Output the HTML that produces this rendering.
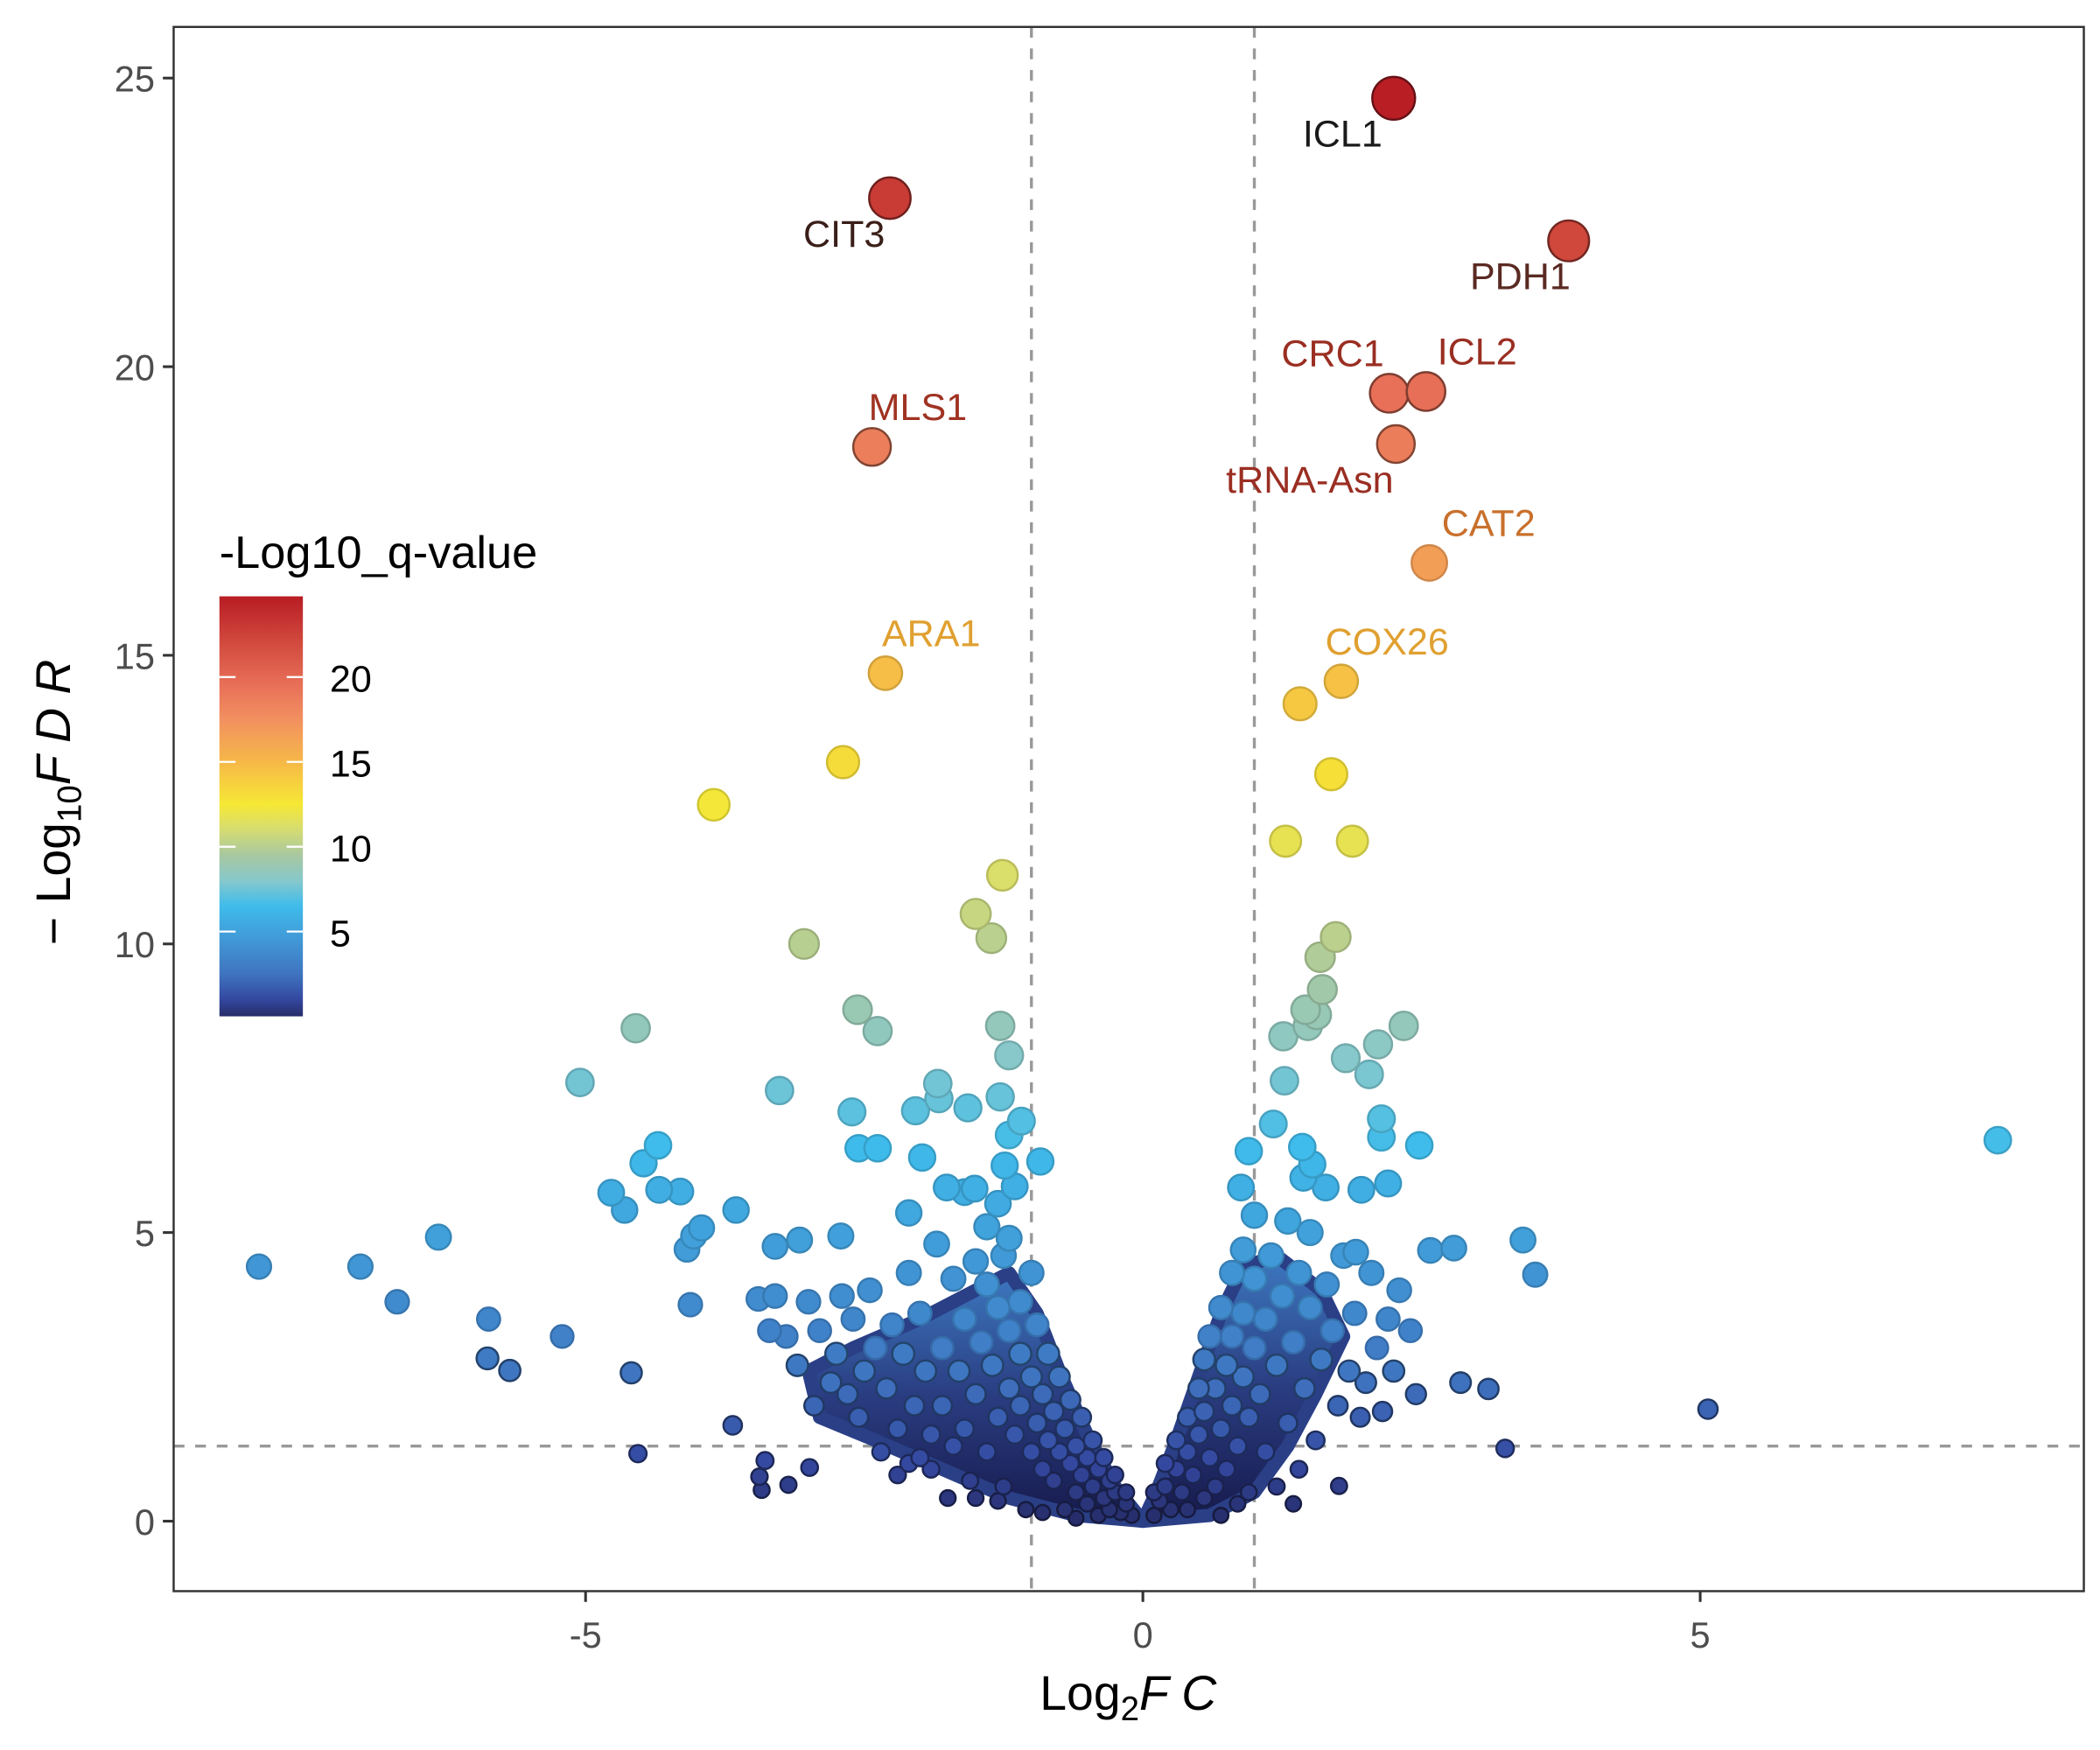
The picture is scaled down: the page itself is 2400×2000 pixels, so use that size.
<!DOCTYPE html>
<html><head><meta charset="utf-8">
<style>
html,body{margin:0;padding:0;background:#fff;}
svg{display:block;font-family:"Liberation Sans",Arial,sans-serif;}
</style></head>
<body>
<svg id="chart" width="2400" height="2000" viewBox="0 0 1560 1300" xmlns="http://www.w3.org/2000/svg">
<defs>
<linearGradient id="cbar" x1="0" y1="1" x2="0" y2="0"></linearGradient>
<linearGradient id="cloudGrad" x1="0" y1="1" x2="0" y2="0">
<stop offset="0" stop-color="#161a4c"/><stop offset="0.5" stop-color="#2a3c80"/><stop offset="1" stop-color="#3d78c0"/>
</linearGradient>
<clipPath id="panelClip"><rect x="129" y="20" width="1419" height="1162"/></clipPath>
</defs>
<rect x="0" y="0" width="1560" height="1300" fill="#fff"/>
<g id="plot" clip-path="url(#panelClip)"></g>
<rect x="129" y="20" width="1419" height="1162" fill="none" stroke="#333" stroke-width="1.6"/>
<g id="axes"></g>
<text x="838" y="1270" font-size="36" text-anchor="middle" fill="#000">Log<tspan font-size="25" dy="8">2</tspan><tspan dy="-8" font-style="italic">F C</tspan></text>
<text transform="translate(52,596) rotate(-90)" font-size="36" text-anchor="middle" fill="#000">− Log<tspan font-size="25" dy="8">10</tspan><tspan dy="-8" font-style="italic">F D R</tspan></text>
<g id="legend">
<text x="163" y="422" font-size="34" fill="#000">-Log10_q-value</text>
</g>
</svg>
<script>
// ---- data ----
const xTicks = [-5, 0, 5];
const yTicks = [0, 5, 10, 15, 20, 25];
const legendTicks = [5, 10, 15, 20];
const fcThreshold = [-1, 1];
const fdrThreshold = 1.3;
const labelNames = ["ICL1","CIT3","PDH1","CRC1","ICL2","tRNA-Asn","MLS1","CAT2","ARA1","COX26"];
const labelFC = [2.25,-2.27,3.82,2.21,2.54,2.27,-2.43,2.57,-2.31,1.78];
const labelFDR = [24.65,22.92,22.18,19.54,19.57,18.66,18.61,16.6,14.69,14.55];
const labelDX = [-38,-34,-36,-42,38,-64,34,44,34,34];
const labelDY = [36,36,36,-20,-20,36,-20,-20,-20,-20];
const labelColor = ["#1a1a1a","#3a1e18","#5a2a22","#9a2e22","#9a2e22","#9a2e22","#a03222","#c8702c","#e0a030","#e0a030"];
const pointFC = [
1.41,-2.69,1.69,-3.85,1.28,1.88,-1.26,-1.50,-1.36,-3.04,1.73,1.59,1.61,-2.56,-2.38,-4.55,-1.28,1.46,1.26,1.48,1.56,2.34,2.11,-1.20,1.82,2.03,-5.05,-3.26,-1.84,-1.83,1.27,-1.28,-1.57,-2.61,-2.04,-1.09,1.17,2.14,-1.20,2.14,7.67,-2.55,-2.38,2.48,-4.35,0.95,1.43,-0.92,-1.24,-1.98,-4.48,1.52,1.44,2.20,1.64,0.88,-4.77,-4.34,-4.15,-1.76,-1.51,1.96,-4.65,-3.65,-2.10,-3.96,3.41,-6.32,-4.03,-4.09,-3.08,-2.71,-3.30,2.79,2.58,1.91,-7.93,-7.02,3.52,-6.69,-5.87,-5.21,-5.88,-5.68,-4.59,-4.06,2.85,3.10,5.07,3.25,-3.68,-4.53,-3.39,-2.99,-3.44,-3.18,-3.42,1.76,
-0.1,-0.15,-0.2,-0.25,-0.3,-0.3,-0.35,-0.4,-0.4,-0.45,-0.5,-0.5,-0.55,-0.6,-0.6,-0.65,-0.7,-0.7,-0.75,-0.8,-0.8,-0.85,-0.9,-0.9,-0.95,-1.0,-1.0,-1.05,-1.1,-1.1,-1.15,-1.2,-1.2,-1.25,-1.3,-1.3,-1.35,-1.4,-1.4,-1.45,-1.5,-1.5,-1.55,-1.6,-1.6,-1.65,-1.7,-1.7,-1.75,-1.8,-1.8,-1.85,-1.9,-1.95,-2.0,-2.0,-2.05,-2.1,-2.15,-2.2,-2.25,-2.3,-2.35,-2.4,-2.45,-2.5,-2.55,-2.6,-2.65,-2.7,-2.75,-2.8,-2.9,-2.95,-3.0,-3.1,-3.2,-3.3,-3.35,-3.45,-1.2,-1.3,-1.0,-1.1,-0.95,-1.25,-1.4,-1.6,-1.15,-0.85,-0.75,-0.65,-0.55,-0.45,-0.35,-0.25,-0.15,-2.2,-2.1,-1.9,-1.3,-1.5,-0.9,-0.6,
0.1,0.15,0.2,0.25,0.3,0.35,0.4,0.4,0.45,0.5,0.55,0.55,0.6,0.65,0.65,0.7,0.75,0.75,0.8,0.8,0.85,0.9,0.9,0.95,0.95,1.0,1.0,1.05,1.1,1.1,1.15,1.2,1.25,1.3,1.3,1.35,1.4,1.45,1.5,1.5,1.55,1.6,1.65,1.7,1.75,1.8,1.85,1.9,1.95,2.0,2.05,2.1,2.15,2.2,2.25,2.3,2.4,2.45,0.55,0.6,0.7,0.8,0.9,1.0,0.2,0.3,0.4,0.5,0.1,1.4,1.2,1.35,0.7,0.85
];
const pointFDR = [
14.16,13.15,12.94,12.41,11.78,11.78,11.19,10.52,10.10,10.0,10.12,9.77,9.21,8.86,8.49,8.54,8.58,8.86,8.40,8.58,8.77,8.58,8.26,8.07,8.02,7.74,7.60,7.46,7.58,7.32,7.63,7.35,7.16,7.09,7.11,6.93,6.88,6.97,6.69,6.65,6.60,6.46,6.46,6.51,6.51,6.41,6.48,6.23,6.16,6.30,6.20,6.18,5.95,5.85,5.78,5.78,5.69,5.74,5.71,5.78,5.76,5.74,5.39,5.39,5.34,5.08,4.87,4.92,4.94,4.71,4.87,4.94,4.76,4.73,4.69,4.66,4.41,4.41,4.27,3.80,3.50,3.20,2.82,2.61,2.57,3.75,2.40,2.29,1.94,1.26,1.66,1.17,1.05,0.93,0.77,0.63,0.54,0.61,
0.1,0.3,0.15,0.5,0.2,0.7,0.4,0.9,0.1,0.6,1.1,0.3,0.8,1.3,0.5,1.0,1.6,0.2,1.2,1.9,0.7,1.4,2.2,0.9,1.7,2.5,1.2,0.2,2.0,2.9,1.5,3.3,2.3,0.6,1.8,3.7,2.7,4.1,1.2,3.1,2.2,4.5,0.7,3.5,1.6,2.6,4.2,1.3,0.4,3.0,2.0,4.8,1.5,2.6,3.6,1.1,2.0,4.3,2.9,1.6,3.4,2.3,1.2,3.0,4.0,2.6,1.8,3.5,2.2,3.9,2.9,2.4,3.3,2.0,3.8,2.7,3.2,3.9,3.3,3.85,4.9,5.5,4.3,3.8,3.4,4.6,5.1,5.7,5.8,2.9,2.5,2.1,1.8,1.4,1.1,0.8,0.5,0.8,1.0,0.9,0.35,0.4,0.15,0.05,
0.1,0.35,0.6,0.2,0.9,0.5,1.2,0.2,0.8,1.5,0.4,1.9,1.1,2.3,0.6,1.6,2.7,0.9,2.0,3.2,1.3,2.5,3.6,0.5,1.8,3.0,4.2,2.2,3.5,1.2,4.6,2.7,3.9,1.7,5.2,3.1,4.3,2.3,3.7,5.0,1.4,2.8,4.1,3.3,2.0,4.6,2.6,3.6,1.8,2.4,4.3,3.0,1.9,3.5,2.6,4.0,3.3,2.2,2.8,3.2,3.7,4.3,4.7,5.3,1.0,1.4,1.8,2.3,0.5,0.9,0.6,0.3,0.1,0.3
];
const cloudLeftFC = [0,-0.25,-0.5,-0.75,-0.95,-1.2,-1.5,-2.0,-2.6,-3.0,-2.9,-2.4,-1.8,-1.2,-0.6];
const cloudLeftFDR = [0,0.6,1.5,2.6,3.6,4.3,4.0,3.5,3.0,2.6,1.8,1.4,0.9,0.4,0.1];
const cloudRightFC = [0,0.12,0.3,0.5,0.7,0.9,1.2,1.6,1.8,1.55,1.3,1.0,0.6];
const cloudRightFDR = [0,0.5,1.4,2.5,3.6,4.4,4.6,4.0,3.2,2.2,1.3,0.5,0.1];
// ---- scales ----
const PL=129, PR=1548, PT=20, PB=1182;
function xs(v){ return 849 + v*82.8; }
function ys(v){ return 1130 - v*42.88; }
const cStops = [[0,'#262c68'],[1,'#3448a0'],[2.5,'#3f74c0'],[4.5,'#4198d6'],[6.5,'#3fbceb'],[8,'#86c8cc'],[9.5,'#a8c8a0'],[11,'#d6dc72'],[12.5,'#f6e835'],[15,'#f6b848'],[17.5,'#f29060'],[19.5,'#e87058'],[22,'#d24a3e'],[24.8,'#b81c24']];
function hex2rgb(h){return [parseInt(h.substr(1,2),16),parseInt(h.substr(3,2),16),parseInt(h.substr(5,2),16)];}
function colorAt(v, k){
  k = (k===undefined) ? 1 : k;
  let i=0; while(i < cStops.length-2 && v > cStops[i+1][0]) i++;
  const a=cStops[i], b=cStops[i+1];
  let t=(v-a[0])/(b[0]-a[0]); t=Math.max(0,Math.min(1,t));
  const ca=hex2rgb(a[1]), cb=hex2rgb(b[1]);
  const c=ca.map((x,j)=>Math.round((x+(cb[j]-x)*t)*k));
  return 'rgb('+c.join(',')+')';
}
const rStops=[[0,5.5],[1.3,6.5],[3,8.3],[5,9.3],[10,11],[15,12.5],[20,14.5],[25,16]];
function radius(v){
  let i=0; while(i < rStops.length-2 && v > rStops[i+1][0]) i++;
  const a=rStops[i], b=rStops[i+1]; const t=Math.max(0,Math.min(1,(v-a[0])/(b[0]-a[0])));
  return a[1]+(b[1]-a[1])*t;
}
const NS='http://www.w3.org/2000/svg';
function mk(tag, attrs, parent){ const e=document.createElementNS(NS,tag); for(const k in attrs) e.setAttribute(k,attrs[k]); parent.appendChild(e); return e; }
const plot=document.getElementById('plot'), axes=document.getElementById('axes'), legend=document.getElementById('legend');

fcThreshold.forEach(v=>{
  const l=mk('line',{x1:xs(v),x2:xs(v),y1:PT,y2:PB,stroke:'#999','stroke-width':2.2,'stroke-dasharray':'8 8'},plot);
  
  
});
const hl=mk('line',{x1:PL,x2:PR,y1:ys(fdrThreshold),y2:ys(fdrThreshold),stroke:'#999','stroke-width':2.2,'stroke-dasharray':'8 8'},plot);



[[cloudLeftFC,cloudLeftFDR,'dense-cloud-left'],[cloudRightFC,cloudRightFDR,'dense-cloud-right']].forEach(c=>{
  const pts=c[0].map((x,i)=>xs(x)+','+ys(c[1][i])).join(' ');
  const p=mk('polygon',{points:pts,fill:'url(#cloudGrad)',stroke:'#2a3f86','stroke-width':10,'stroke-linejoin':'round'},plot);
  
  
});

const allFC = pointFC.concat(labelFC), allFDR = pointFDR.concat(labelFDR);
const idx = allFC.map((_,i)=>i).sort((a,b)=>allFDR[a]-allFDR[b]);
idx.forEach(i=>{
  const v=allFDR[i];
  const c=mk('circle',{cx:xs(allFC[i]),cy:ys(v),r:radius(v),fill:colorAt(v),stroke:colorAt(v, v > 17 ? 0.55 : (v < 3 ? 0.55 : 0.85)),'stroke-width':1.6},plot);
  
  
});
labelNames.forEach((n,i)=>{
  const t=mk('text',{x:xs(labelFC[i])+labelDX[i],y:ys(labelFDR[i])+labelDY[i],'font-size':28,'text-anchor':'middle',fill:labelColor[i]},plot);
  t.textContent=n;
  
  
});

xTicks.forEach(v=>{
  const l=mk('line',{x1:xs(v),x2:xs(v),y1:PB,y2:PB+8,stroke:'#333','stroke-width':2},axes);
  
  
  const t=mk('text',{x:xs(v),y:PB+42,'font-size':27,'text-anchor':'middle',fill:'#4d4d4d'},axes);
  t.textContent = v < 0 ? '-'+Math.abs(v) : String(v);
  
  
});
yTicks.forEach(v=>{
  const l=mk('line',{x1:PL-8,x2:PL,y1:ys(v),y2:ys(v),stroke:'#333','stroke-width':2},axes);
  
  
  const t=mk('text',{x:PL-14,y:ys(v)+10,'font-size':27,'text-anchor':'end',fill:'#4d4d4d'},axes);
  t.textContent=String(v);
  
  
});

const LB=755, LT=443, LV=24.76;
function ls(v){ return LB - v/LV*(LB-LT); }
const g=document.getElementById('cbar');
cStops.forEach(s=>{ mk('stop',{offset:Math.min(1,s[0]/LV),'stop-color':s[1]},g); });
const bar=mk('rect',{x:163,y:LT,width:62,height:LB-LT,fill:'url(#cbar)'},legend);


legendTicks.forEach(v=>{
  mk('line',{x1:163,x2:175,y1:ls(v),y2:ls(v),stroke:'#fff','stroke-width':1.5},legend);
  mk('line',{x1:213,x2:225,y1:ls(v),y2:ls(v),stroke:'#fff','stroke-width':1.5},legend);
  const t=mk('text',{x:245,y:ls(v)+11,'font-size':28,fill:'#000'},legend);
  t.textContent=String(v);
  
  
});
</script>
</body></html>
